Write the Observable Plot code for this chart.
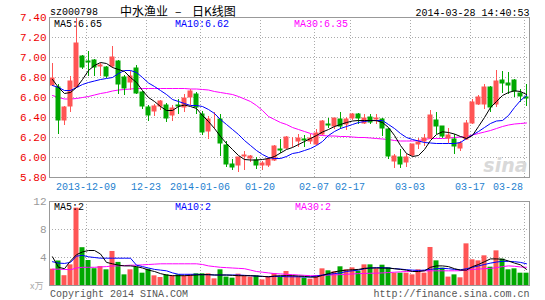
<!DOCTYPE html>
<html>
<head>
<meta charset="utf-8">
<script src="https://cdn.jsdelivr.net/npm/d3@7"></script>
<script src="https://cdn.jsdelivr.net/npm/@observablehq/plot@0.6"></script>
<style>
  html, body { margin: 0; padding: 0; background: #fff; }
  #chart { width: 545px; height: 300px; }
  #chart svg { display: block; }
</style>
</head>
<body>
<div id="chart"></div>
<script>
// ---- tick labels ----
const dateLabels = ["2013-12-09", "12-23", "2014-01-06", "01-20", "02-07", "02-17", "03-03", "03-17", "03-28"];
const dateIdx = [6, 16, 25, 35, 44, 50, 60, 70, 79];
const priceTicks = [5.8, 6.0, 6.2, 6.4, 6.6, 6.8, 7.0, 7.2, 7.4];
const volTicks = [4, 8, 12];
// legend values as printed on the chart
const priceMALabels = ["MA5:6.65", "MA10:6.62", "MA30:6.35"];
const volMALabels = ["MA5:2", "MA10:2", "MA30:2"];
const titleParts = ["中水渔业", "–", "日K线图"];

// ---- daily candles (80 trading days) ----
const open = [6.72,6.70,6.37,6.51,6.70,7.01,6.96,6.97,6.91,6.90,
  6.91,6.96,6.80,6.75,6.89,6.65,6.50,6.46,6.51,6.52,
  6.42,6.52,6.50,6.60,6.63,6.43,6.26,6.35,6.38,6.12,
  5.93,5.92,6.01,5.99,5.97,5.92,5.92,5.97,6.08,6.09,
  6.17,6.16,6.18,6.16,6.13,6.23,6.33,6.31,6.38,6.33,
  6.39,6.43,6.34,6.40,6.38,6.38,6.28,5.96,6.00,5.95,
  6.02,6.13,6.16,6.19,6.37,6.31,6.19,6.18,6.09,6.18,
  6.34,6.53,6.53,6.70,6.53,6.77,6.74,6.77,6.64,6.60];
const high = [6.94,6.73,6.51,6.81,7.40,7.02,7.06,6.98,6.94,6.91,
  7.11,6.97,6.82,6.86,6.92,6.66,6.52,6.53,6.57,6.54,
  6.52,6.58,6.63,6.68,6.65,6.46,6.41,6.45,6.43,6.16,
  5.98,6.00,6.06,6.02,6.00,5.96,6.00,6.12,6.18,6.21,
  6.20,6.23,6.22,6.23,6.28,6.37,6.39,6.39,6.45,6.40,
  6.44,6.44,6.43,6.43,6.43,6.39,6.29,6.03,6.08,6.03,
  6.13,6.19,6.23,6.47,6.45,6.31,6.29,6.23,6.16,6.37,
  6.58,6.62,6.73,6.71,6.87,6.86,6.85,6.78,6.68,6.73];
const low = [6.71,6.23,6.32,6.45,6.69,6.88,6.81,6.81,6.81,6.79,
  6.89,6.63,6.62,6.67,6.63,6.48,6.36,6.41,6.47,6.35,
  6.36,6.43,6.45,6.52,6.43,6.22,6.18,6.28,6.01,5.90,
  5.87,5.85,5.87,5.95,5.88,5.87,5.90,5.96,6.04,6.08,
  6.10,6.10,6.10,6.13,6.12,6.22,6.29,6.28,6.28,6.27,
  6.37,6.33,6.33,6.33,6.33,6.21,5.98,5.89,5.89,5.90,
  6.01,6.08,6.11,6.18,6.23,6.19,6.14,6.03,6.06,6.17,
  6.33,6.52,6.48,6.45,6.50,6.64,6.63,6.60,6.55,6.51];
const close = [6.79,6.37,6.50,6.76,7.14,6.90,6.95,6.90,6.92,6.81,
  7.00,6.73,6.69,6.81,6.64,6.51,6.42,6.51,6.56,6.39,
  6.49,6.51,6.59,6.66,6.50,6.25,6.38,6.35,6.14,5.93,
  5.90,6.00,6.02,6.01,5.92,5.94,5.98,6.11,6.07,6.20,
  6.17,6.19,6.17,6.19,6.24,6.36,6.32,6.39,6.31,6.38,
  6.43,6.39,6.39,6.35,6.39,6.29,6.01,6.01,5.93,6.00,
  6.13,6.15,6.19,6.42,6.31,6.21,6.22,6.11,6.14,6.34,
  6.55,6.60,6.70,6.50,6.76,6.74,6.72,6.66,6.61,6.59];
// volume (x 10k)
const volume = [2.33,3.5,1.4,2.95,11.05,5.4,3.57,2.4,2.7,2.24,
  4.86,3.3,1.52,2.24,2.6,1.76,2.33,1.38,1.14,1.52,
  1.38,1.52,1.38,1.52,1.67,1.67,1.67,0.95,2.24,1.2,
  1.05,1.62,1.38,1.2,1.38,0.8,1.2,1.7,1.2,2.0,
  1.38,1.2,1.05,0.9,1.38,2.38,2.1,1.95,2.67,2.24,
  2.52,2.05,2.95,2.95,2.38,2.9,2.52,1.76,1.76,1.76,
  1.52,2.24,1.76,5.43,3.52,2.48,1.2,1.52,1.1,5.95,
  3.67,3.52,4.24,2.62,4.95,3.76,2.24,2.38,1.76,1.76];

// ---- moving averages as drawn ----
const ma5 = [6.78,6.70,6.64,6.65,6.70,6.78,6.87,6.92,6.95,6.94,
  6.90,6.88,6.86,6.80,6.75,6.67,6.60,6.56,6.51,6.47,
  6.47,6.51,6.525,6.51,6.49,6.42,6.36,6.29,6.21,6.14,
  6.08,6.02,5.98,5.975,5.975,5.98,5.99,6.01,6.045,6.08,
  6.10,6.13,6.16,6.19,6.22,6.255,6.28,6.31,6.33,6.35,
  6.365,6.37,6.37,6.37,6.368,6.35,6.30,6.22,6.12,6.04,
  6.01,6.02,6.08,6.17,6.23,6.257,6.25,6.235,6.21,6.19,
  6.22,6.31,6.40,6.50,6.56,6.62,6.65,6.667,6.66,6.63];
const ma10 = [6.72,6.70,6.67,6.67,6.70,6.73,6.75,6.765,6.78,6.79,
  6.80,6.84,6.87,6.87,6.85,6.80,6.745,6.71,6.67,6.63,
  6.58,6.56,6.54,6.52,6.52,6.51,6.48,6.44,6.38,6.33,
  6.28,6.23,6.17,6.12,6.07,6.03,6.00,5.99,5.99,6.01,
  6.04,6.05,6.07,6.09,6.12,6.16,6.22,6.26,6.29,6.31,
  6.33,6.35,6.36,6.37,6.37,6.37,6.33,6.29,6.24,6.20,
  6.18,6.165,6.15,6.145,6.14,6.14,6.14,6.14,6.15,6.19,
  6.225,6.26,6.30,6.34,6.365,6.37,6.42,6.50,6.57,6.62];
const ma30 = [6.62,6.60,6.585,6.585,6.59,6.60,6.61,6.625,6.64,6.65,
  6.665,6.675,6.68,6.685,6.69,6.69,6.69,6.69,6.69,6.69,
  6.69,6.69,6.69,6.685,6.685,6.68,6.675,6.66,6.65,6.64,
  6.63,6.61,6.585,6.56,6.52,6.47,6.41,6.38,6.35,6.33,
  6.30,6.28,6.26,6.24,6.225,6.22,6.215,6.215,6.21,6.21,
  6.205,6.20,6.20,6.195,6.19,6.185,6.18,6.17,6.165,6.165,
  6.165,6.17,6.18,6.19,6.19,6.19,6.195,6.20,6.205,6.21,
  6.225,6.24,6.255,6.27,6.29,6.31,6.325,6.335,6.34,6.345];
const vma5 = [4.1,2.6,2.4,3.5,4.4,4.8,5.0,5.0,4.5,3.3,
  3.1,2.9,2.8,2.8,2.7,2.5,2.2,2.0,1.7,1.5,
  1.4,1.4,1.4,1.45,1.5,1.55,1.55,1.5,1.5,1.5,
  1.45,1.4,1.4,1.4,1.35,1.3,1.25,1.35,1.4,1.4,
  1.4,1.35,1.3,1.2,1.2,1.45,1.7,1.95,2.1,2.2,
  2.25,2.3,2.45,2.5,2.5,2.48,2.48,2.4,2.3,2.2,
  2.0,2.0,2.1,2.6,2.8,2.8,2.7,2.4,2.2,2.2,
  2.7,3.0,3.4,3.8,3.8,3.75,3.5,3.2,2.95,2.3];
const vma10 = [3.4,3.2,3.15,3.3,4.2,4.3,4.1,4.0,3.9,3.9,
  3.9,3.9,3.9,3.9,2.9,2.7,2.5,2.3,2.2,2.1,
  1.8,1.6,1.6,1.6,1.6,1.55,1.55,1.5,1.5,1.5,
  1.5,1.5,1.45,1.4,1.35,1.3,1.25,1.3,1.3,1.25,
  1.25,1.25,1.2,1.25,1.35,1.5,1.6,1.7,1.8,2.0,
  2.1,2.2,2.4,2.5,2.55,2.55,2.5,2.4,2.35,2.25,
  2.2,2.15,2.2,2.3,2.4,2.45,2.4,2.3,2.25,2.4,
  2.6,2.8,3.0,3.2,3.35,3.45,3.45,3.4,3.3,3.1];
const vma30 = [2.33,2.33,2.3,2.25,2.5,2.6,2.6,2.6,2.65,2.7,
  2.8,2.8,2.85,2.9,2.9,2.95,3.0,3.05,3.1,3.1,
  3.1,3.1,3.1,3.1,3.1,3.0,2.8,2.7,2.6,2.55,
  2.5,2.45,2.4,2.2,2.0,1.9,1.8,1.7,1.65,1.6,
  1.55,1.5,1.45,1.4,1.4,1.45,1.5,1.52,1.55,1.6,
  1.65,1.7,1.72,1.75,1.76,1.8,1.85,1.9,1.95,2.0,
  2.05,2.1,2.1,2.1,2.1,2.1,2.1,2.1,2.12,2.2,
  2.3,2.35,2.4,2.45,2.55,2.7,2.8,2.75,2.65,2.6];

// ---- build tables ----
const UP = "#ff5555", DOWN = "#00a800";
const MA_COLORS = ["#000000", "#0000ff", "#ff00ff"];
const LEGEND_DX = [4.5, 125.5, 244.5];
const candles = close.map((c, i) => ({
  i, open: open[i], high: high[i], low: low[i], close: c, vol: volume[i],
  color: c >= open[i] ? UP : DOWN
}));
const dates = dateLabels.map((label, k) => ({label, i: dateIdx[k]}));
const half = 5 / 12; // half body width in index units
const MONO = "Liberation Mono, DejaVu Sans Mono, monospace";
const GRID = {stroke: "#aaaaaa", strokeDasharray: "1,2"};

const legend = (labels, dy) => labels.map((t, k) =>
  Plot.text([t], {frameAnchor: "top-left", textAnchor: "start", lineAnchor: "bottom",
    dx: LEGEND_DX[k] + (k === 2 && dy < 9 ? 1 : 0), dy, fill: MA_COLORS[k]}));

const main = Plot.plot({
  width: 545, height: 196,
  marginLeft: 49, marginRight: 16, marginTop: 17, marginBottom: 19,
  x: {domain: [-0.5, 79.5], axis: null},
  y: {domain: [5.8, 7.4], axis: null},
  style: {fontFamily: MONO, fontSize: "10px", overflow: "visible", background: "transparent"},
  marks: [
    Plot.ruleY(priceTicks.slice(1, -1), GRID),
    Plot.ruleX(dates, {x: d => d.i - half, dx: 0.5, ...GRID}),
    Plot.text(["sina"], {frameAnchor: "bottom-right", textAnchor: "end", dx: -2, dy: -6,
      fill: "#d9d9d9", fontSize: 19, fontWeight: "bold", fontStyle: "italic", fontFamily: "DejaVu Sans"}),
    Plot.line(ma30, {x: (d, i) => i, y: d => d, stroke: MA_COLORS[2], strokeWidth: 1}),
    Plot.ruleX(candles, {x: "i", y1: "low", y2: "high", stroke: "color", strokeWidth: 1}),
    Plot.rect(candles, {x1: d => d.i - half, x2: d => d.i + half, y1: "open", y2: "close",
      fill: "color", stroke: "color", strokeWidth: 1, insetLeft: 0.5, insetRight: 0.5}),
    Plot.line(ma10, {x: (d, i) => i, y: d => d, stroke: MA_COLORS[1], strokeWidth: 1}),
    Plot.line(ma5, {x: (d, i) => i, y: d => d, stroke: MA_COLORS[0], strokeWidth: 1}),
    Plot.frame({stroke: "#999999"}),
    // y tick labels
    Plot.text(priceTicks, {y: d => d, text: d => d.toFixed(2), frameAnchor: "left",
      textAnchor: "end", dx: -3, fill: "#ee0000", fontSize: 11}),
    // date labels
    Plot.text(dates.slice(0, -1), {x: d => d.i - half, text: "label", frameAnchor: "bottom",
      lineAnchor: "top", dy: 5, fill: "#1e7fcf"}),
    Plot.text(dates.slice(-1), {x: d => d.i - half, text: "label", frameAnchor: "bottom",
      lineAnchor: "top", dy: 5, textAnchor: "end", dx: -1, fill: "#1e7fcf"}),
    // header
    Plot.text(["sz000798"], {frameAnchor: "top-left", textAnchor: "start", lineAnchor: "bottom",
      dx: 0.5, dy: -2.5, fill: "#000"}),
    ...titleParts.map((t, k) => Plot.text([t], {frameAnchor: "top-left", textAnchor: "start",
      lineAnchor: "bottom", dx: [70.5, 125.5, 142.5][k], dy: -2, fill: "#000", fontSize: 12,
      fontFamily: "Noto Sans CJK SC"})),
    Plot.text(["2014-03-28 14:40:53"], {frameAnchor: "top-right", textAnchor: "end", lineAnchor: "bottom",
      dy: -1.5, fill: "#000"}),
    ...legend(priceMALabels, 9.5)
  ]
});

const vol = Plot.plot({
  width: 545, height: 104,
  marginLeft: 49, marginRight: 16, marginTop: 5, marginBottom: 15,
  x: {domain: [-0.5, 79.5], axis: null},
  y: {domain: [0, 12], axis: null},
  style: {fontFamily: MONO, fontSize: "10px", overflow: "visible", background: "transparent"},
  marks: [
    Plot.ruleY(volTicks.slice(0, -1), GRID),
    Plot.ruleX(dates, {x: d => d.i - half, dx: 0.5, ...GRID}),
    Plot.rect(candles, {x1: d => d.i - half, x2: d => d.i + half, y1: 0, y2: "vol", fill: "color"}),
    Plot.line(vma30, {x: (d, i) => i, y: d => d, stroke: MA_COLORS[2], strokeWidth: 1}),
    Plot.line(vma10, {x: (d, i) => i, y: d => d, stroke: MA_COLORS[1], strokeWidth: 1}),
    Plot.line(vma5, {x: (d, i) => i, y: d => d, stroke: MA_COLORS[0], strokeWidth: 1}),
    Plot.frame({stroke: "#999999"}),
    Plot.text(volTicks, {y: d => d, text: d => String(d), frameAnchor: "left",
      textAnchor: "end", dx: -3, fill: "#999999", fontSize: 11}),
    Plot.text(["x万"], {frameAnchor: "bottom-left", textAnchor: "end", lineAnchor: "bottom",
      dx: -6, dy: 3, fill: "#aaaaaa", fontSize: 9, fontFamily: "Noto Sans CJK SC"}),
    ...legend(volMALabels, 8.5),
    Plot.text(["Copyright 2014 SINA.COM"], {frameAnchor: "bottom-left", textAnchor: "start",
      lineAnchor: "bottom", dx: 0.5, dy: 11.5, fill: "#555555"}),
    Plot.text(["http://finance.sina.com.cn"], {frameAnchor: "bottom-right", textAnchor: "end",
      lineAnchor: "bottom", dx: 0, dy: 11.5, fill: "#555555"})
  ]
});

document.getElementById("chart").append(main, vol);
</script>
</body>
</html>
